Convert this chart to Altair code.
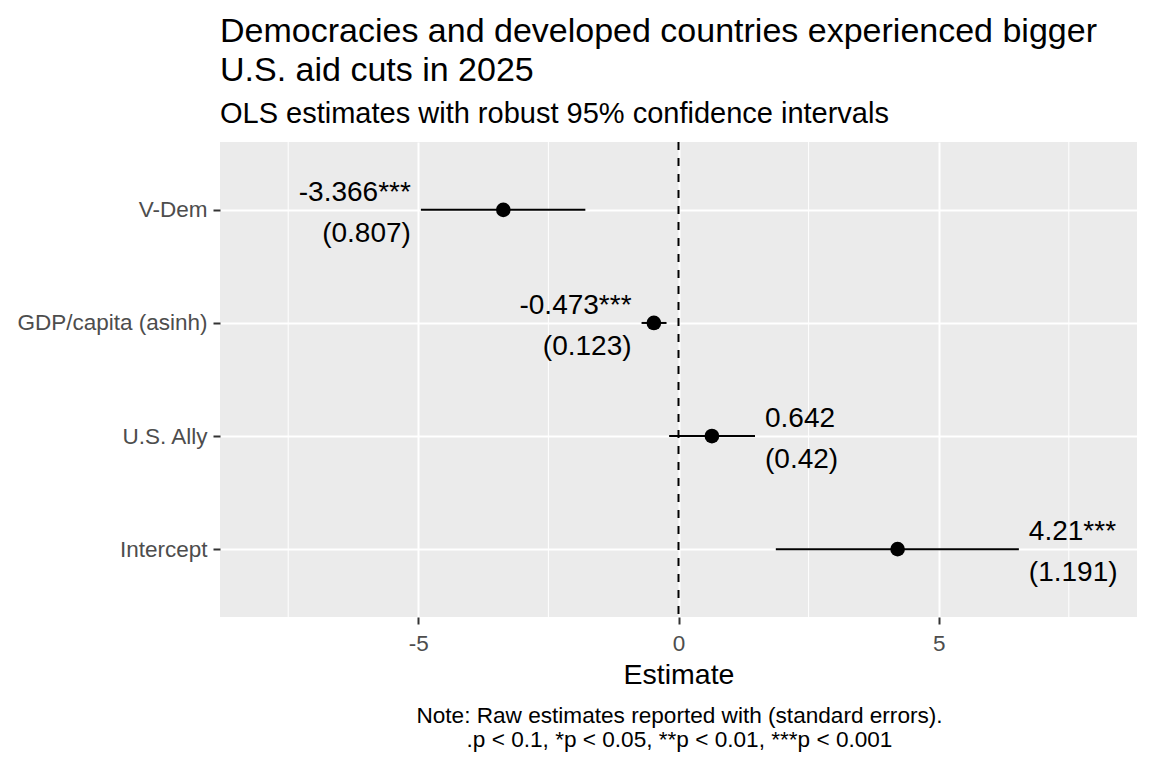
import altair as alt
import pandas as pd

terms = ["V-Dem", "GDP/capita (asinh)", "U.S. Ally", "Intercept"]
estimates = [-3.366, -0.473, 0.642, 4.21]
std_errors = [0.807, 0.123, 0.42, 1.191]
ci_lower = [-4.95, -0.71, -0.18, 1.87]
ci_upper = [-1.79, -0.23, 1.47, 6.54]
stars = ["***", "***", "", "***"]
major_ticks = [-5, 0, 5]
minor_ticks = [-7.5, -2.5, 2.5, 7.5]

title_lines = ["Democracies and developed countries experienced bigger", "U.S. aid cuts in 2025"]
subtitle = "OLS estimates with robust 95% confidence intervals"
caption_lines = ["Note: Raw estimates reported with (standard errors).",
                 ".p < 0.1, *p < 0.05, **p < 0.01, ***p < 0.001"]

FONT = "Liberation Sans"
W, H = 917, 475

df = pd.DataFrame({
    "term": terms,
    "estimate": estimates,
    "se": std_errors,
    "lower": ci_lower,
    "upper": ci_upper,
    "est_label": [f"{e}{s}" for e, s in zip(estimates, stars)],
    "se_label": [f"({s})" for s in std_errors],
})
df["anchor"] = [lo if e < 0 else up for e, lo, up in zip(estimates, ci_lower, ci_upper)]

xscale = alt.Scale(domain=[-8.81, 8.81], nice=False, zero=False)
yscale = alt.Scale(domain=terms, type="point", padding=0.6)

base = alt.Chart(df)

minor = alt.Chart(pd.DataFrame({"v": minor_ticks})).mark_rule(
    color="white", strokeWidth=1
).encode(x=alt.X("v:Q", scale=xscale))

zero_line = alt.Chart(pd.DataFrame({"v": [0]})).mark_rule(
    color="black", strokeWidth=2, strokeDash=[8, 8]
).encode(x=alt.X("v:Q", scale=xscale))

ci = base.mark_rule(color="black", strokeWidth=2).encode(
    x=alt.X("lower:Q", scale=xscale,
            axis=alt.Axis(values=major_ticks, title="Estimate",
                          labelExpr="'' + datum.value")),
    x2="upper:Q",
    y=alt.Y("term:N", scale=yscale, axis=alt.Axis(title=None, labelLimit=0)),
)

pts = base.mark_point(filled=True, color="black", size=215, opacity=1).encode(
    x=alt.X("estimate:Q", scale=xscale),
    y=alt.Y("term:N", scale=yscale),
)

def labels(field, dy, sign):
    flt = "datum.estimate < 0" if sign < 0 else "datum.estimate >= 0"
    return base.transform_filter(flt).mark_text(
        font=FONT, fontSize=28, color="black",
        align="right" if sign < 0 else "left",
        baseline="alphabetic", dx=-10 if sign < 0 else 10, dy=dy,
    ).encode(
        x=alt.X("anchor:Q", scale=xscale),
        y=alt.Y("term:N", scale=yscale),
        text=f"{field}:N",
    )

txt = [labels("est_label", -9, -1), labels("se_label", 32, -1),
       labels("est_label", -9, 1), labels("se_label", 32, 1)]

cap = alt.Chart(pd.DataFrame({"t": [caption_lines]})).mark_text(
    font=FONT, fontSize=22.6, color="black", align="center",
    baseline="alphabetic", lineHeight=24.4,
).encode(x=alt.value(W / 2 + 1), y=alt.value(581), text="t:N")

chart = alt.layer(minor, ci, zero_line, pts, *txt, cap).properties(
    width=W, height=H, background="white",
    title=alt.TitleParams(text=title_lines, subtitle=subtitle, anchor="start",
                          frame="group", font=FONT, fontSize=34, fontWeight="normal",
                          color="black", lineHeight=39, subtitleFont=FONT,
                          subtitleFontSize=29, subtitleColor="black",
                          subtitlePadding=12, offset=12),
    padding={"left": 212, "top": 134, "right": 7, "bottom": 143},
    autosize=alt.AutoSizeParams(type="none"),
).configure_view(
    fill="#EBEBEB", stroke=None
).configure_axis(
    domain=False, grid=True, gridColor="white", gridWidth=2,
    tickColor="#333333", tickWidth=2, tickSize=7,
    labelFont=FONT, labelFontSize=22.5, labelColor="#4D4D4D",
    titleFont=FONT, titleFontSize=28.5, titleColor="black", titleFontWeight="normal",
).configure_axisX(
    labelPadding=8, titlePadding=6,
).configure_axisY(
    labelPadding=6,
)

chart.save("out.html", embed_options={"renderer": "svg", "actions": False})
